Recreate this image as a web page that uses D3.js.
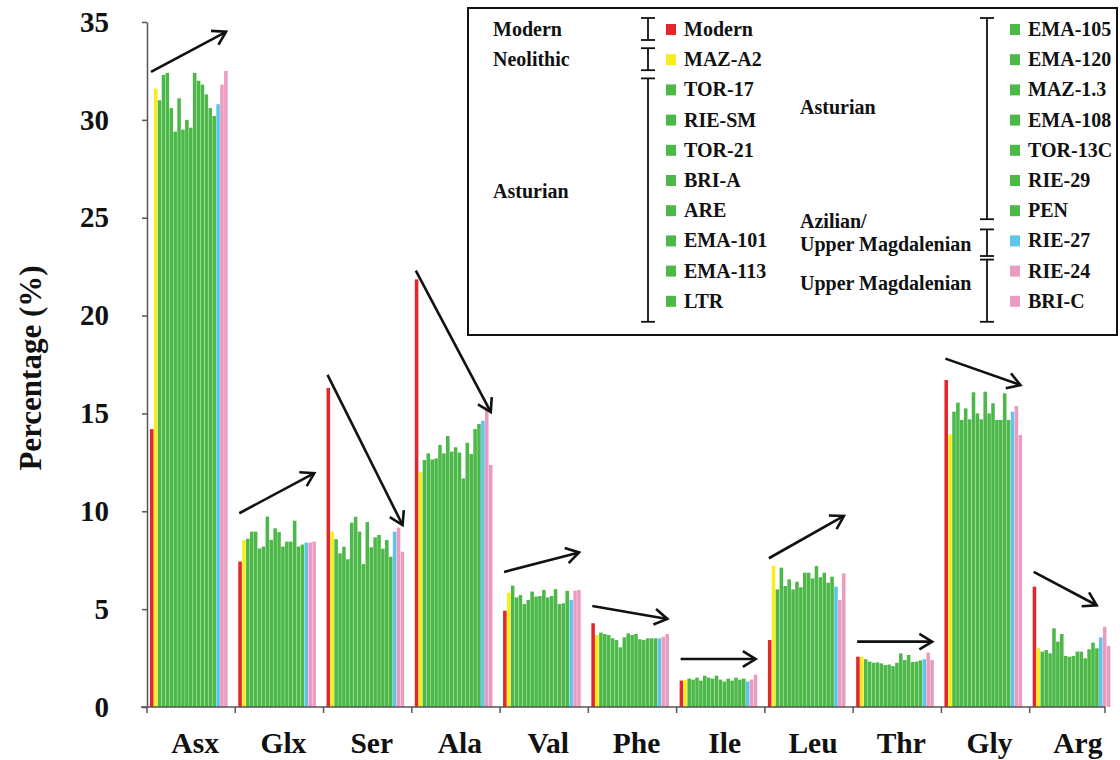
<!DOCTYPE html>
<html><head><meta charset="utf-8">
<script src="https://cdn.jsdelivr.net/npm/d3@7"></script>
<style>
body{margin:0;background:#fff}
svg{display:block}
text{font-family:"Liberation Serif","Times New Roman",serif;font-weight:bold;fill:#111}
</style>
</head><body>
<svg id="chart" width="1120" height="760"></svg>
<script>
// ---------- DATA ----------
const categories = ["Asx","Glx","Ser","Ala","Val","Phe","Ile","Leu","Thr","Gly","Arg"];
const samples = ["Modern","MAZ-A2","TOR-17","RIE-SM","TOR-21","BRI-A","ARE","EMA-101","EMA-113","LTR",
  "EMA-105","EMA-120","MAZ-1.3","EMA-108","TOR-13C","RIE-29","PEN","RIE-27","RIE-24","BRI-C"];
const samplePeriod = ["Modern","Neolithic","Asturian","Asturian","Asturian","Asturian","Asturian","Asturian","Asturian","Asturian",
  "Asturian","Asturian","Asturian","Asturian","Asturian","Asturian","Asturian","Azilian","UpperMag","UpperMag"];
const yTicks = [0,5,10,15,20,25,30,35];

// values per amino acid, in sample order
const asx = [14.2,31.6, 31.0,32.3,32.4,30.6,29.4,31.1,29.5,30.0,29.6,32.4,32.0,31.8,31.3,30.6,30.2, 30.8,31.8,32.5];
const glx = [7.43,8.53, 8.6,8.96,8.96,8.1,8.2,9.73,8.54,9.13,8.93,8.2,8.45,8.45,9.52,8.2,8.3, 8.4,8.4,8.45];
const ser = [16.3,8.96, 8.57,7.85,8.19,7.55,9.42,9.72,8.96,7.3,9.45,8.16,8.67,8.79,8.09,8.53,7.68, 8.96,9.16,7.94];
const ala = [21.85,12.0, 12.62,12.96,12.65,12.7,13.39,12.96,13.85,13.05,13.27,13.0,11.68,13.5,12.93,14.2,14.46, 14.63,15.35,12.37];
const val = [4.92,5.84, 6.2,5.6,5.72,5.26,5.47,5.9,5.64,5.67,5.98,5.6,5.67,6.02,5.26,5.3,5.94, 5.47,5.94,5.98];
const phe = [4.28,3.68, 3.8,3.73,3.68,3.51,3.42,3.05,3.56,3.76,3.68,3.73,3.46,3.42,3.51,3.51,3.51, 3.51,3.59,3.73];
const ile = [1.35,1.38, 1.45,1.4,1.5,1.35,1.6,1.5,1.45,1.6,1.4,1.3,1.45,1.35,1.5,1.4,1.45, 1.3,1.4,1.65];
const leu = [3.42,7.22, 6.01,7.12,6.18,6.52,6.01,6.4,6.12,6.86,6.86,6.57,7.2,6.63,6.86,6.35,6.66, 6.15,5.47,6.83];
const thr = [2.57,2.57, 2.44,2.32,2.26,2.28,2.23,2.14,2.17,2.09,2.26,2.74,2.4,2.66,2.3,2.32,2.38, 2.44,2.78,2.4];
const gly = [16.71,13.93, 15.09,15.55,14.67,15.26,14.7,16.08,15.0,14.7,16.11,15.0,15.52,14.67,14.67,16.03,14.67, 15.09,15.38,13.9];
const arg = [6.15,3.0, 2.83,2.91,2.74,4.02,3.34,3.73,2.61,2.57,2.61,2.83,2.83,2.49,2.95,3.29,3.0, 3.56,4.1,3.12];
const seriesByCategory = [asx,glx,ser,ala,val,phe,ile,leu,thr,gly,arg];

// trend arrows: start value -> end value per category
const arrowFrom = [32.45,9.9,16.97,22.3,6.9,5.16,2.45,7.6,3.34,17.8,6.9];
const arrowTo   = [34.5,11.95,9.3,15.07,7.9,4.5,2.45,9.76,3.34,16.45,5.2];

// legend groups
const legendLeftGroups  = [{label:["Modern"],from:0,to:0},{label:["Neolithic"],from:1,to:1},{label:["Asturian"],from:2,to:9}];
const legendRightGroups = [{label:["Asturian"],from:10,to:16},{label:["Azilian/","Upper Magdalenian"],from:17,to:17},{label:["Upper Magdalenian"],from:18,to:19}];

// ---------- STYLE / LAYOUT ----------
const periodColor = {Modern:"#e3262b",Neolithic:"#f7ec1c",Asturian:"#4cb848",Azilian:"#5fc3ea",UpperMag:"#e99cc0"};
const svg = d3.select("#chart");
const X0 = 147, Y0 = 707, YTOP = 22;

const y = d3.scaleLinear().domain([0,35]).range([Y0,YTOP]);
const x0 = d3.scaleBand().domain(categories).range([X0, X0+11*88.27]);
const x1 = d3.scaleBand().domain(samples).range([3, 3+20*3.9]);

// bars
const groups = svg.append("g").selectAll("g").data(categories).join("g")
  .attr("transform", c => `translate(${x0(c)},0)`);
groups.selectAll("rect").data((c,i) => seriesByCategory[i].map((v,j)=>({s:samples[j],v,p:samplePeriod[j]})))
  .join("rect")
  .attr("x", d => x1(d.s))
  .attr("width", x1.bandwidth()-0.35)
  .attr("y", d => y(d.v))
  .attr("height", d => Y0 - y(d.v))
  .attr("fill", d => periodColor[d.p]);

// y axis
const yAxis = svg.append("g").attr("transform",`translate(${X0},0)`)
  .call(d3.axisLeft(y).tickValues(yTicks).tickSize(5).tickPadding(33).tickSizeOuter(0));
yAxis.select(".domain").attr("stroke","#555").attr("stroke-width",1.5);
yAxis.selectAll(".tick line").attr("stroke","#555").attr("stroke-width",1.5);
yAxis.selectAll(".tick text").attr("font-size",29).attr("font-family","Liberation Serif").attr("font-weight","bold").attr("fill","#111");

// x axis
const xEnd = 1105;
svg.append("line").attr("x1",X0-6).attr("x2",xEnd).attr("y1",Y0).attr("y2",Y0).attr("stroke","#555").attr("stroke-width",1.5);
const tickXs = categories.slice(1).map(c => x0(c)).concat([xEnd]);
svg.append("g").selectAll("line").data([X0].concat(tickXs)).join("line")
  .attr("x1",d=>d).attr("x2",d=>d).attr("y1",Y0).attr("y2",Y0+6).attr("stroke","#555").attr("stroke-width",1.5);
svg.append("g").selectAll("text").data(categories).join("text")
  .attr("x", c => x0(c) + x0.bandwidth()/2 + 4)
  .attr("y", 753)
  .attr("text-anchor","middle")
  .attr("font-size",29.5)
  .text(c=>c);

// y label
svg.append("text").attr("transform","translate(41,368) rotate(-90)")
  .attr("text-anchor","middle").attr("font-size",31).text("Percentage (%)");

// arrows
const arrowEndOffset = categories.map(c => c==="Arg" ? 67 : 79);
const arrowG = svg.append("g");
categories.forEach((c,i) => {
  const xa = x0(c)+4, xb = x0(c)+arrowEndOffset[i];
  const ya = y(arrowFrom[i]), yb = y(arrowTo[i]);
  arrowG.append("line").attr("x1",xa).attr("y1",ya).attr("x2",xb).attr("y2",yb)
    .attr("stroke","#111").attr("stroke-width",2.6);
  const ang = Math.atan2(yb-ya, xb-xa), L = 15, h = 0.55;
  const p1 = [xb - L*Math.cos(ang-h), yb - L*Math.sin(ang-h)];
  const p2 = [xb - L*Math.cos(ang+h), yb - L*Math.sin(ang+h)];
  arrowG.append("path").attr("d",`M${p1}L${xb},${yb}L${p2}`)
    .attr("fill","none").attr("stroke","#111").attr("stroke-width",2.6).attr("stroke-linejoin","miter");
});

// legend
const lg = svg.append("g");
lg.append("rect").attr("x",468).attr("y",8).attr("width",649).attr("height",327)
  .attr("fill","#fff").attr("stroke","#111").attr("stroke-width",2);
const rowY = i => 30 + (i%10)*30.2;
const fs = 20;
samples.forEach((s,i) => {
  const left = i < 10;
  const sx = left ? 666 : 1010;
  lg.append("rect").attr("x",sx).attr("y",rowY(i)-6).attr("width",10).attr("height",11)
    .attr("fill",periodColor[samplePeriod[i]]);
  lg.append("text").attr("x",sx+18).attr("y",rowY(i)+6).attr("font-size",fs).text(s);
});
function bracket(x, ya, yb){
  lg.append("line").attr("x1",x).attr("x2",x).attr("y1",ya).attr("y2",yb).attr("stroke","#111").attr("stroke-width",1.8);
  [ya,yb].forEach(yy => lg.append("line").attr("x1",x-7).attr("x2",x+7).attr("y1",yy).attr("y2",yy).attr("stroke","#111").attr("stroke-width",1.8));
}
legendLeftGroups.forEach(g => {
  bracket(648, rowY(g.from)-12, rowY(g.to)+ (g.to-g.from>0?20:10));
  const cy = (rowY(g.from)+rowY(g.to))/2;
  const dy = g.to-g.from>0 ? 2 : 6;
  g.label.forEach((t,k)=>lg.append("text").attr("x",493).attr("y",cy+dy+(k-(g.label.length-1)/2)*23).attr("font-size",fs).text(t));
});
const rightLabelY = [108, 233, 284];
legendRightGroups.forEach((g,gi) => {
  const ya = gi===0 ? 18 : rowY(g.from)-12;
  const yb = gi===1 ? 256 : rowY(g.to)+ (gi===0?8:20);
  bracket(987, ya, yb);
  g.label.forEach((t,k)=>lg.append("text").attr("x",800).attr("y",rightLabelY[gi]+6+(k-(g.label.length-1)/2)*23).attr("font-size",fs).text(t));
});
</script>
</body></html>
